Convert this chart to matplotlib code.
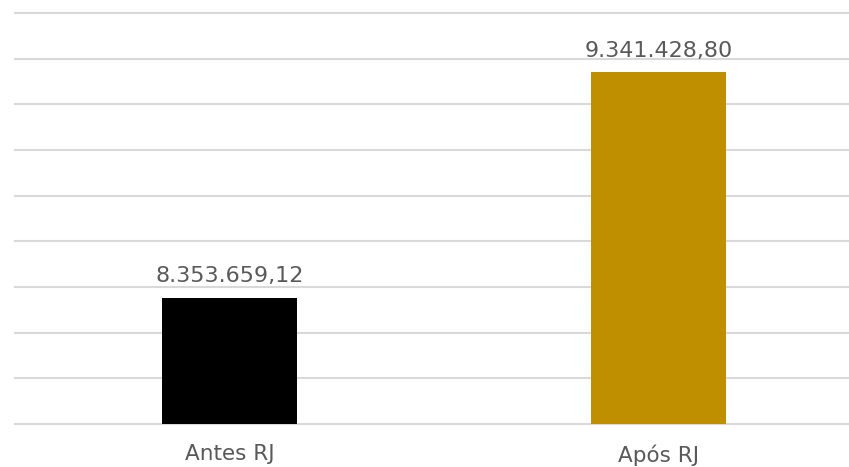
import matplotlib
matplotlib.use("Agg")
import matplotlib.pyplot as plt

categories = ["Antes RJ", "Após RJ"]
values = [8353659.12, 9341428.80]
labels = ["8.353.659,12", "9.341.428,80"]
colors = ["#000000", "#bf8f00"]

fig = plt.figure(figsize=(8.49, 4.67), dpi=100)
# axes runs past the right edge, as in the cropped original
ax = fig.add_axes([15 / 849, 43 / 467, 858 / 849, 411 / 467])

x = range(len(categories))
ax.bar(x, values, width=0.315, color=colors, zorder=3)
ax.set_xlim(-0.5, 1.5)
ax.set_ylim(7800000, 9600000)
ax.set_yticks([7800000 + 200000 * i for i in range(10)])
ax.yaxis.grid(True, color="#d9d9d9", linewidth=1.5, zorder=0)
for gl in ax.get_ygridlines():
    gl.set_clip_on(False)
ax.tick_params(axis="y", left=False, labelleft=False)
ax.tick_params(axis="x", bottom=False, labelsize=15.5, labelcolor="#595959", pad=11)
ax.set_xticks(list(x))
ax.set_xticklabels(categories)
for s in ax.spines.values():
    s.set_visible(False)

for i, (v, t) in enumerate(zip(values, labels)):
    ax.annotate(t, (i, v), xytext=(0, 8), textcoords="offset points",
                ha="center", va="bottom", fontsize=16, color="#595959")

fig.savefig("out.png", dpi=100)
